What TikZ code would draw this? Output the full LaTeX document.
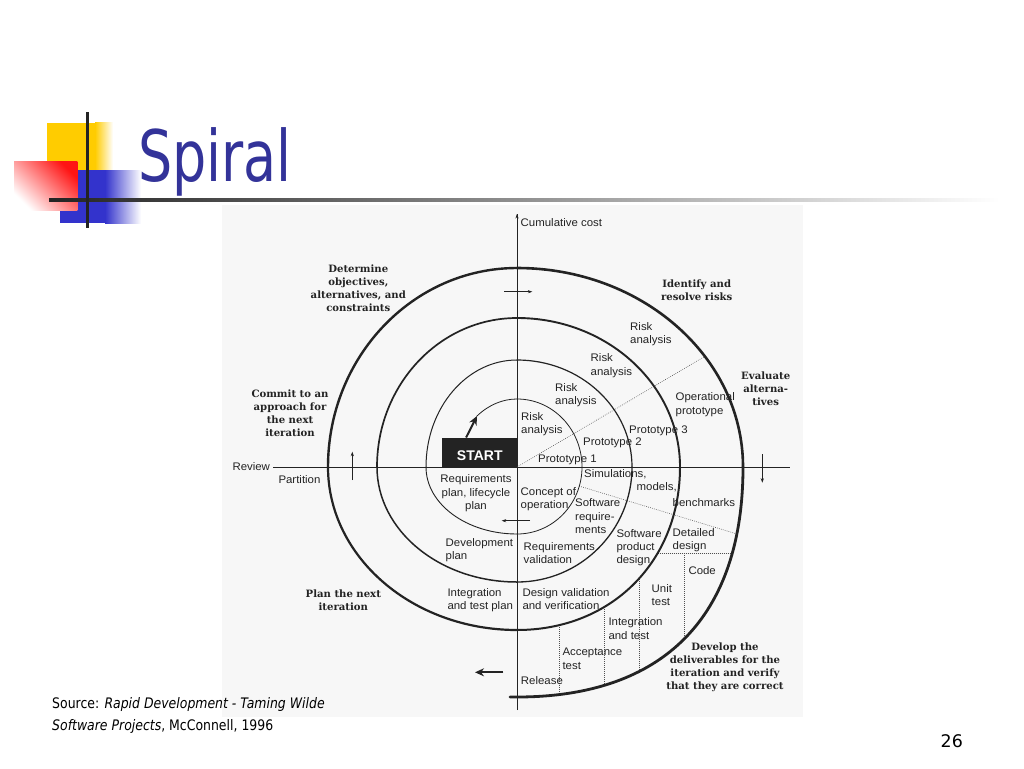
\documentclass[tikz,border=0pt]{standalone}
\usepackage{fontspec}
\setmainfont{Liberation Sans}
\newfontfamily\labfont{Liberation Sans}[FakeStretch=1.04]
\newfontfamily\headfont{DejaVu Serif}
\newfontfamily\titlefont{DejaVu Sans}[FakeStretch=0.76]
\newfontfamily\srcfont{DejaVu Sans}[FakeStretch=0.86]
\newfontfamily\numfont{DejaVu Sans}
\usetikzlibrary{arrows.meta}
\definecolor{ink}{RGB}{35,35,35}
\definecolor{titleblue}{RGB}{51,51,153}
\definecolor{logoY}{RGB}{255,204,0}
\definecolor{logoB}{RGB}{51,51,204}
\definecolor{logoR}{RGB}{255,20,20}
\definecolor{scanbg}{RGB}{247,247,247}
\begin{document}
\begin{tikzpicture}[x=1pt,y=-1pt,
 lab/.style={font=\labfont\fontsize{11}{13.3}\selectfont, text=ink, inner sep=0pt, align=left, anchor=north west},
 labc/.style={lab, align=center, anchor=north},
 hdg/.style={font=\headfont\bfseries\fontsize{10.1}{13.2}\selectfont, text=ink, inner sep=0pt, align=center, anchor=north},
 sp/.style={draw=ink, line cap=round, line join=round},
 dots/.style={draw=ink!80, line width=0.6pt, dash pattern=on 0.7pt off 1.3pt},
 axisline/.style={draw=ink, line width=0.6pt},
 smallarr/.style={draw=ink, line width=0.6pt, -{Stealth[length=4.5pt,width=3.2pt]}},
 boldarr/.style={draw=ink, line width=2pt, -{Stealth[length=9pt,width=8pt]}},
 startbox/.style={fill=ink, text=white, inner sep=0pt, minimum width=75pt, minimum height=29.6pt,
   text height=16.4pt, text depth=0pt, font=\fontsize{14}{14}\selectfont\bfseries}
]
\useasboundingbox (0,0) rectangle (1024,768);
\fill[white] (0,0) rectangle (1024,768);

% ---------- logo ----------
\fill[logoY] (46.7,122.7) rectangle (95,171);
\shade[left color=logoY, right color=white] (95,122.7) rectangle (113,171);
\fill[logoB] (60,170) rectangle (105,223.3);
\shade[left color=logoB, right color=white] (105,170) rectangle (141,223.3);
\shade[top color=logoR, bottom color=white, shading angle=-45] (14,161.7) rectangle (77.3,210);
\shade[left color=ink, middle color=black!45, right color=white] (49,198.5) rectangle (1000,201.5);
\fill[ink] (85.5,111.7) rectangle (88.5,228.3);
\node[anchor=base west, inner sep=0pt, font=\titlefont\fontsize{71}{71}\selectfont, text=titleblue] (title) at (138,181.7) {Spiral};

% ---------- scanned figure background ----------
\fill[scanbg] (222,205) rectangle (803,717);

% ---------- axes ----------
\coordinate (O) at (517,467);
\coordinate (ytop) at (517,214);
\coordinate (ybot) at (517,710);
\coordinate (xleft) at (273,467);
\coordinate (xright) at (790,467);
\draw[axisline] (ybot) -- (ytop);
\draw[axisline, -{Stealth[length=4.5pt,width=3.2pt]}] (517,222) -- (ytop);
\draw[axisline] (xleft) -- (xright);

% ---------- dotted lines ----------
\draw[dots] (O) -- (704.8,356.4);
\draw[dots] (579.3,486.1) -- (737,534);
\draw[dots] (657.7,553) -- (732.2,553);
\draw[dots] (684,553) -- (684,639);
\draw[dots] (639,578.6) -- (639,671);
\draw[dots] (604,607) -- (604,685);
\draw[dots] (559,625.2) -- (559,694.6);

% ---------- START box ----------
\node[startbox] (start) at (479.8,452.5) {START};
\coordinate (spstart) at (477,416);

% ---------- spiral ----------
\draw[sp, line width=0.8pt] (spstart) .. controls (488.8,404.7) and (502.9,399) .. (517,399);
\draw[sp, line width=0.8pt] (517,399) .. controls (552.9,399) and (582,429.4) .. (582,467);
\draw[sp, line width=0.8pt] (582,467) .. controls (582,504) and (552.9,534) .. (517,534);
\draw[sp, line width=0.9pt] (517,534) .. controls (466.7,534) and (426,504) .. (426,467);
\draw[sp, line width=1.0pt] (426,467) .. controls (426,407.9) and (466.7,360) .. (517,360);
\draw[sp, line width=1.2pt] (517,360) .. controls (580.5,360) and (632,407.9) .. (632,467);
\draw[sp, line width=1.3pt] (632,467) .. controls (632,530.5) and (580.5,582) .. (517,582);
\draw[sp, line width=1.5pt] (517,582) .. controls (439.7,582) and (377,530.5) .. (377,467);
\draw[sp, line width=1.7pt] (377,467) .. controls (377,384.7) and (439.7,318) .. (517,318);
\draw[sp, line width=1.9pt] (517,318) .. controls (607,318) and (680,384.7) .. (680,467);
\draw[sp, line width=2.0pt] (680,467) .. controls (680,561.5) and (611.5,630) .. (517,630);
\draw[sp, line width=2.2pt] (517,630) .. controls (412.6,630) and (328,557) .. (328,467);
\draw[sp, line width=2.4pt] (328,467) .. controls (328,357.1) and (412.6,268) .. (517,268);
\draw[sp, line width=2.6pt] (517,268) .. controls (641.8,268) and (743,357.1) .. (743,467);
\draw[sp, line width=2.8pt] (743,467) .. controls (743,616.5) and (663.9,697) .. (517,697) -- (510,697);

% ---------- arrows ----------
\draw[boldarr] ([xshift=24pt]start.north west) -- (spstart);
\draw[smallarr] (504,291.7) -- (532.3,291.7);
\draw[smallarr] (762.3,454.3) -- (762.3,482.7);
\draw[smallarr] (530,520.7) -- (501.7,520.7);
\draw[smallarr] (352.3,480) -- (352.3,451.7);
\draw[boldarr] (503.3,672.3) -- (475,672.3);

% ---------- headings ----------
\node[hdg] (h1) at (358.3,264.2) {Determine\\objectives,\\alternatives, and\\constraints};
\node[hdg] (h2) at (696.7,279.2) {Identify and\\resolve risks};
\node[hdg] (h3) at (765.7,371.5) {Evaluate\\alterna-\\tives};
\node[hdg] (h4) at (290,389.2) {Commit to an\\approach for\\the next\\iteration};
\node[hdg] (h5) at (343.3,589.2) {Plan the next\\iteration};
\node[hdg] (h6) at (725,642.5) {Develop the\\deliverables for the\\iteration and verify\\that they are correct};

% ---------- labels ----------
\node[lab] (cc) at (520.5,218.7) {Cumulative cost};
\node[lab] (ra1) at (521,412) {Risk\\analysis};
\node[lab] (ra2) at (555,383.3) {Risk\\analysis};
\node[lab] (ra3) at (590.5,353.7) {Risk\\analysis};
\node[lab] (ra4) at (630,322) {Risk\\analysis};
\node[lab] (p1) at (538,454.7) {Prototype 1};
\node[lab] (p2) at (583,438) {Prototype 2};
\node[lab] (p3) at (629,426) {Prototype 3};
\node[lab] (op) at (675.5,392.7) {Operational\\prototype};
\node[lab] (sim) at (584,469.5) {Simulations,};
\node[lab] (mod) at (636.5,482) {models,};
\node[lab] (ben) at (672.5,498) {benchmarks};
\node[lab] (con) at (520.5,487) {Concept of\\operation};
\node[lab] (swr) at (575,498.7) {Software\\require-\\ments};
\node[labc] (rpl) at (476,474.7) {Requirements\\plan, lifecycle\\plan};
\node[lab] (dev) at (445.5,538.3) {Development\\plan};
\node[lab] (rv) at (523.5,542.5) {Requirements\\validation};
\node[lab] (spd) at (616.3,529) {Software\\product\\design};
\node[lab] (dd) at (672.5,528) {Detailed\\design};
\node[lab] (code) at (688.3,566.3) {Code};
\node[lab] (itp) at (447.3,588) {Integration\\and test plan};
\node[lab] (dvv) at (522.3,588) {Design validation\\and verification};
\node[lab] (ut) at (651.5,584.3) {Unit\\test};
\node[lab] (it) at (608.3,617.7) {Integration\\and test};
\node[lab] (at) at (562.3,648) {Acceptance\\test};
\node[lab] (rel) at (520.7,676.3) {Release};
\node[lab] (rev) at (232.3,462.7) {Review};
\node[lab] (par) at (278.3,475.3) {Partition};

% ---------- source & page number ----------
\node[anchor=north west, inner sep=0pt, align=left, text=black,
  font=\srcfont\fontsize{14.5}{22.4}\selectfont] (src) at (52,697.3)
  {Source: \textit{Rapid Development - Taming Wilde}\\\textit{Software Projects}, McConnell, 1996};
\node[anchor=base west, inner sep=0pt, text=black, font=\numfont\fontsize{17.4}{18}\selectfont] (pnum) at (940.5,747.7) {26};
\end{tikzpicture}
\end{document}
